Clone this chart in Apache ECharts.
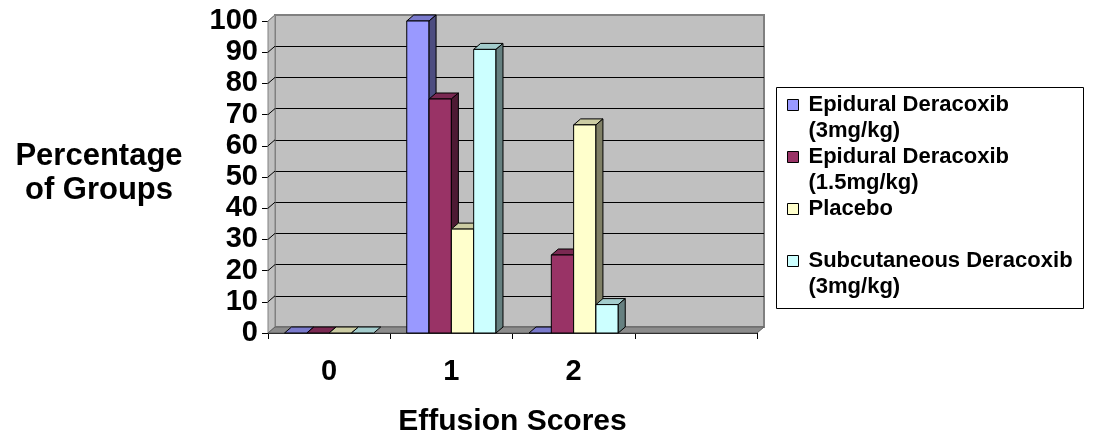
<!DOCTYPE html>
<html>
<head>
<meta charset="utf-8">
<script src="https://cdn.jsdelivr.net/npm/echarts@6/dist/echarts.min.js"></script>
<style>
  html, body { margin: 0; padding: 0; background: #fff; }
  #chart { width: 1093px; height: 447px; }
</style>
</head>
<body>
<div id="chart"></div>
<script>
const categories = ['0', '1', '2', '']
const seriesNames = [
    'Epidural Deracoxib\n(3mg/kg)',
    'Epidural Deracoxib\n(1.5mg/kg)',
    'Placebo',
    'Subcutaneous Deracoxib\n(3mg/kg)'
]
const epidural3 = [0, 100, 0, null]
const epidural15 = [0, 75, 25, null]
const placebo = [0, 33.3, 66.7, null]
const subcut3 = [0, 90.9, 9.1, null]
const yTicks = [0, 10, 20, 30, 40, 50, 60, 70, 80, 90, 100]

const faceColors = ['#9999ff', '#993366', '#ffffcc', '#ccffff']
const topColors = ['#7a7acc', '#7a2952', '#cccca3', '#a3cccc']
const sideColors = ['#4d4d80', '#4d1a33', '#808066', '#668080']
const DX = 7, DY = 6
const font = 'Arial, "Liberation Sans", sans-serif'

const chart = echarts.init(document.getElementById('chart'))

const renderBar = function (params, api) {
    const i = params.seriesIndex
    const band = api.size([1, 0])[0]
    const w = band * 0.73 / 4
    const base = api.coord([api.value(0), 0])
    const top = api.coord([api.value(0), api.value(1)])
    const x = base[0] - 2 * w + i * w
    const yt = top[1], yb = base[1]
    const edge = { stroke: '#000', lineWidth: 1 }
    const children = [
        {
            type: 'polygon',
            shape: { points: [[x, yt], [x + DX, yt - DY], [x + w + DX, yt - DY], [x + w, yt]] },
            style: Object.assign({ fill: topColors[i] }, edge)
        }
    ]
    if (yb - yt > 0.5) {
        children.push({
            type: 'rect',
            shape: { x, y: yt, width: w, height: yb - yt },
            style: Object.assign({ fill: faceColors[i] }, edge)
        })
        children.push({
            type: 'polygon',
            shape: { points: [[x + w, yt], [x + w + DX, yt - DY], [x + w + DX, yb - DY], [x + w, yb]] },
            style: Object.assign({ fill: sideColors[i] }, edge)
        })
    }
    return { type: 'group', children }
}

const toData = arr => arr.map((v, j) => [j, v]).filter(d => d[1] !== null)
const allValues = [epidural3, epidural15, placebo, subcut3]

const boldLabel = { color: '#000', fontFamily: font, fontWeight: 'bold', fontSize: 29 }

const option = {
    animation: false,
    backgroundColor: '#fff',
    title: [{
        text: 'Percentage\nof Groups',
        left: 99,
        top: 139,
        textAlign: 'center',
        padding: 0,
        textStyle: { color: '#000', fontFamily: font, fontWeight: 'bold', fontSize: 31, lineHeight: 34 }
    }],
    grid: [
        { left: 268, right: 336, top: 21, bottom: 114 },
        { left: 275, right: 329, top: 15, bottom: 120, show: true, backgroundColor: '#c0c0c0', borderColor: '#808080', borderWidth: 2 }
    ],
    xAxis: [
        {
            type: 'category',
            gridIndex: 0,
            data: categories,
            axisLine: { lineStyle: { color: '#000', width: 1 } },
            axisTick: { show: true, length: 6, lineStyle: { color: '#000' } },
            axisLabel: Object.assign({ margin: 24 }, boldLabel),
            name: 'Effusion Scores',
            nameLocation: 'middle',
            nameGap: 74,
            nameTextStyle: { color: '#000', fontFamily: font, fontWeight: 'bold', fontSize: 30 }
        },
        { type: 'category', gridIndex: 1, data: categories, show: false }
    ],
    yAxis: [
        {
            type: 'value',
            gridIndex: 0,
            min: 0,
            max: 100,
            interval: 10,
            axisLine: { show: true, lineStyle: { color: '#000', width: 1 } },
            axisTick: { show: true, length: 6, lineStyle: { color: '#000' } },
            axisLabel: Object.assign({ margin: 10 }, boldLabel),
            splitLine: { show: false }
        },
        {
            type: 'value',
            gridIndex: 1,
            min: 0,
            max: 100,
            interval: 10,
            axisLine: { show: false },
            axisTick: { show: false },
            axisLabel: { show: false },
            splitLine: { show: true, showMinLine: false, showMaxLine: false, lineStyle: { color: '#000', width: 1 } }
        }
    ],
    legend: {
        orient: 'vertical',
        left: 787,
        top: 66,
        padding: 0,
        itemWidth: 11,
        itemHeight: 11,
        itemGap: -26,
        icon: 'rect',
        itemStyle: { borderColor: '#000', borderWidth: 1 },
        data: seriesNames,
        // blank first line keeps the icon level with the first text line
        formatter: name => ' \n' + (name.indexOf('\n') < 0 ? name + '\n ' : name),
        textStyle: {
            color: '#000', fontFamily: font, fontWeight: 'bold', fontSize: 22, lineHeight: 26,
            padding: [0, 0, 0, 5]
        }
    },
    series: allValues.map((arr, i) => ({
        name: seriesNames[i],
        type: 'custom',
        xAxisIndex: 0,
        yAxisIndex: 0,
        z: 3,
        itemStyle: { color: faceColors[i] },
        renderItem: renderBar,
        data: toData(arr)
    }))
}
chart.setOption(option)

// 3D walls: side strip, floor, tick-to-gridline diagonals, legend frame
const yFront = v => chart.convertToPixel({ yAxisIndex: 0 }, v)
const left = 268, right = 757
const yBase = yFront(0), yTop = yFront(100)
const walls = [
    {
        type: 'polygon', z: 1,
        shape: { points: [[left, yTop], [left + DX, yTop - DY], [left + DX, yBase - DY], [left, yBase]] },
        style: { fill: '#c0c0c0', stroke: '#808080', lineWidth: 1 }
    },
    {
        type: 'polygon', z: 1,
        shape: { points: [[left, yBase], [left + DX, yBase - DY], [right + DX, yBase - DY], [right, yBase]] },
        style: { fill: '#8c8c8c', stroke: '#606060', lineWidth: 1 }
    },
    {
        type: 'rect', z: 1,
        shape: { x: 776.5, y: 87.5, width: 307, height: 221 },
        style: { fill: '#fff', stroke: '#000', lineWidth: 1 }
    }
]
yTicks.forEach(v => {
    if (v === 0) return
    const y = yFront(v)
    walls.push({
        type: 'line', z: 2,
        shape: { x1: left, y1: y, x2: left + DX, y2: y - DY },
        style: { stroke: v === 100 ? '#808080' : '#000', lineWidth: 1 }
    })
})
chart.setOption({ graphic: { elements: walls } })
</script>
</body>
</html>
